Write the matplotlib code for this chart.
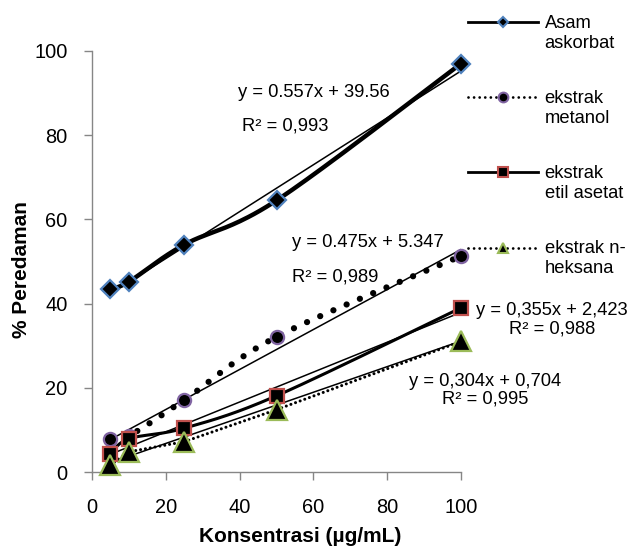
import numpy as np
import matplotlib
matplotlib.use("Agg")
import matplotlib.pyplot as plt
from matplotlib.lines import Line2D
from matplotlib.legend_handler import HandlerLine2D

plt.rcParams['font.family'] = ['Liberation Sans', 'DejaVu Sans']

# ---------------- data ----------------
konsentrasi = [5, 10, 25, 50, 100]
asam_askorbat = [43.5, 45.2, 54.0, 64.5, 97.0]
ekstrak_metanol = [7.9, 8.6, 17.1, 32.1, 51.3]
ekstrak_etil_asetat = [4.3, 7.9, 10.4, 18.1, 39.0]
ekstrak_n_heksana = [1.7, 4.8, 7.2, 14.8, 31.0]

labels = ["Asam\naskorbat", "ekstrak\nmetanol", "ekstrak\netil asetat", "ekstrak n-\nheksana"]
trend_slopes = [0.557, 0.475, 0.355, 0.304]
trend_intercepts = [39.56, 5.347, 2.423, 0.704]
trend_texts = ["y = 0.557x + 39.56", "y = 0.475x + 5.347",
               "y = 0,355x + 2,423", "y = 0,304x + 0,704"]
r2_texts = ["R² = 0,993", "R² = 0,989", "R² = 0,988", "R² = 0,995"]
x_ticks = [0, 20, 40, 60, 80, 100]
y_ticks = [0, 20, 40, 60, 80, 100]


def smooth(x, y, sx=3.69, sy=4.21, n=40):
    """Excel-like smoothed (Bezier) rendering of a line through the points."""
    P = np.column_stack([np.asarray(x, float) * sx, np.asarray(y, float) * sy])
    out = []
    for i in range(len(P) - 1):
        p0 = P[i - 1] if i > 0 else P[i]
        p1, p2 = P[i], P[i + 1]
        p3 = P[i + 2] if i + 2 < len(P) else P[i + 1]
        c1 = p1 + (p2 - p0) / 6.0
        c2 = p2 - (p3 - p1) / 6.0
        t = np.linspace(0, 1, n)[:, None]
        seg = ((1 - t) ** 3) * p1 + 3 * ((1 - t) ** 2) * t * c1 + 3 * (1 - t) * t ** 2 * c2 + t ** 3 * p2
        out.append(seg if i == 0 else seg[1:])
    S = np.vstack(out)
    return S[:, 0] / sx, S[:, 1] / sy


fig = plt.figure(figsize=(6.29, 5.49), dpi=100)
ax = fig.add_axes([92 / 629, 1 - 472 / 549, 369 / 629, 421 / 549])

edge_cols = ['#4F81BD', '#8064A2', '#C0504D', '#9BBB59']
markers = ['D', 'o', 's', '^']
msizes = [9.5, 9.5, 9.5, 14]
series = [asam_askorbat, ekstrak_metanol, ekstrak_etil_asetat, ekstrak_n_heksana]
line_kw = [
    dict(linestyle='-', linewidth=3.2),
    dict(linestyle=(0, (0.01, 2.3)), linewidth=4.5, dash_capstyle='round'),
    dict(linestyle='-', linewidth=2.2),
    dict(linestyle=(0, (0.01, 1.6)), linewidth=2.2, dash_capstyle='round'),
]
smoothed = [True, True, True, False]

xt = np.array([konsentrasi[0], konsentrasi[-1]], float)
for i, ys in enumerate(series):
    if smoothed[i]:
        sxv, syv = smooth(konsentrasi, ys)
    else:
        sxv, syv = np.array(konsentrasi, float), np.array(ys, float)
    ax.plot(sxv, syv, color='black', zorder=3, **line_kw[i])
    ax.plot(xt, trend_slopes[i] * xt + trend_intercepts[i], color='black',
            linewidth=1.1, zorder=3)
for i, ys in enumerate(series):
    ax.plot(konsentrasi, ys, linestyle='none', marker=markers[i], markersize=msizes[i],
            markerfacecolor='black', markeredgecolor=edge_cols[i],
            markeredgewidth=1.6, zorder=4, clip_on=False)

ax.set_xlim(0, 100)
ax.set_ylim(0, 100)
ax.set_xticks(x_ticks)
ax.set_yticks(y_ticks)
for s in ['top', 'right']:
    ax.spines[s].set_visible(False)
for s in ['left', 'bottom']:
    ax.spines[s].set_color('#868686')
    ax.spines[s].set_linewidth(1.0)
ax.tick_params(axis='both', colors='#868686', length=5.5, width=1.0, labelsize=14.4,
               labelcolor='black')
ax.tick_params(axis='x', pad=13)
ax.tick_params(axis='y', pad=12)

ax.set_xlabel("Konsentrasi (µg/mL)", fontsize=15, fontweight='bold')
ax.xaxis.set_label_coords(0.564, -0.131)
ax.set_ylabel("% Peredaman", fontsize=15, fontweight='bold')
ax.yaxis.set_label_coords(-0.165, 0.48)

fs = 13.2
# trendline equations
ax.text(39.6, 90.1, trend_texts[0], fontsize=fs, ha='left', va='center')
ax.text(40.6, 82.2, r2_texts[0], fontsize=fs, ha='left', va='center')
ax.text(54.2, 54.6, trend_texts[1], fontsize=fs, ha='left', va='center')
ax.text(54.2, 46.3, r2_texts[1], fontsize=fs, ha='left', va='center')
ax.text(124.7, 36.2, trend_texts[2] + "\n" + r2_texts[2], fontsize=fs, ha='center',
        va='center', multialignment='center', linespacing=1.1)
ax.text(106.5, 19.4, trend_texts[3] + "\n" + r2_texts[3], fontsize=fs, ha='center',
        va='center', multialignment='center', linespacing=1.1)


class UpHandler(HandlerLine2D):
    def __init__(self, shift, **kw):
        super().__init__(**kw)
        self.shift = shift

    def create_artists(self, legend, orig_handle, xdescent, ydescent, width, height,
                       fontsize, trans):
        arts = super().create_artists(legend, orig_handle, xdescent, ydescent, width,
                                      height, fontsize, trans)
        for a in arts:
            a.set_ydata(np.asarray(a.get_ydata(), float) + self.shift)
        return arts


leg_msizes = [5.5, 7, 7, 6.5]
leg_kw = [
    dict(linestyle='-', linewidth=2.0),
    dict(linestyle=(0, (0.01, 2.0)), linewidth=2.0, dash_capstyle='round'),
    dict(linestyle='-', linewidth=2.0),
    dict(linestyle=(0, (0.01, 2.0)), linewidth=2.0, dash_capstyle='round'),
]
handles = [Line2D([], [], color='black', marker=markers[i], markersize=leg_msizes[i],
                  markerfacecolor='black', markeredgecolor=edge_cols[i],
                  markeredgewidth=1.5, **leg_kw[i]) for i in range(4)]
hmap = {h: UpHandler(shift=8.0) for h in handles}
fig.legend(handles, labels, loc='upper left', bbox_to_anchor=(468 / 629, 1 - 15 / 549),
           frameon=False, fontsize=fs, handlelength=3.8, handletextpad=0.38,
           labelspacing=2.1, borderpad=0, borderaxespad=0, handler_map=hmap)

fig.savefig("out.png", dpi=100)
